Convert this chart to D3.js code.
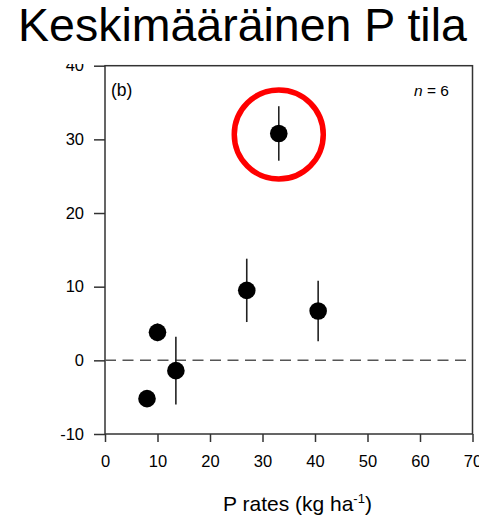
<!DOCTYPE html>
<html>
<head>
<meta charset="utf-8">
<script src="https://cdn.jsdelivr.net/npm/d3@7"></script>
<style>
  html, body { margin: 0; padding: 0; background: #fff; }
  svg { display: block; font-family: "Liberation Sans", Arial, sans-serif; }
</style>
</head>
<body>
<svg id="chart" width="479" height="519"></svg>
<script>
// P application rate (kg/ha) and mean change in soil P, with standard errors
const rates = [8, 10, 13.5, 27, 33.1, 40.6];
const means = [-5.2, 3.8, -1.4, 9.5, 30.8, 6.7];
const errors = [0.9, 1.2, 4.6, 4.3, 3.7, 4.1];
const xTicks = [0, 10, 20, 30, 40, 50, 60, 70];
const yTicks = [-10, 0, 10, 20, 30, 40];
const highlighted = [4]; // index of the circled observation

const svg = d3.select("#chart");
const W = 479, H = 519;
const margin = { top: 65.7, right: 6.5, bottom: 85, left: 105 };

const x = d3.scaleLinear().domain([0, 70]).range([margin.left, W - margin.right]);
const y = d3.scaleLinear().domain([-10, 40]).range([H - margin.bottom, margin.top]);

const axisColor = "#333";
const plain = v => String(v); // hyphen-minus, as in the printed figure

// y axis
const gy = svg.append("g")
  .attr("transform", `translate(${margin.left},0)`)
  .call(d3.axisLeft(y).tickValues(yTicks).tickFormat(plain)
    .tickSize(11).tickSizeOuter(0).tickPadding(10));
gy.select(".domain").remove();
gy.selectAll("line").attr("stroke", axisColor).attr("stroke-width", 1.5);
gy.selectAll("text").attr("font-size", 16.5).attr("fill", "#000")
  .attr("font-family", "'Liberation Sans', Arial, sans-serif");

// x axis
const gx = svg.append("g")
  .attr("transform", `translate(0,${H - margin.bottom})`)
  .call(d3.axisBottom(x).tickValues(xTicks).tickFormat(plain)
    .tickSize(8).tickSizeOuter(0).tickPadding(13));
gx.select(".domain").remove();
gx.selectAll("line").attr("stroke", axisColor).attr("stroke-width", 1.5);
gx.selectAll("text").attr("font-size", 16.5).attr("fill", "#000")
  .attr("font-family", "'Liberation Sans', Arial, sans-serif");

// plot frame
svg.append("rect")
  .attr("x", x(0)).attr("y", y(40))
  .attr("width", x(70) - x(0)).attr("height", y(-10) - y(40))
  .attr("fill", "none").attr("stroke", axisColor).attr("stroke-width", 1.5);

// zero reference line
svg.append("line")
  .attr("x1", x(0)).attr("x2", x(70))
  .attr("y1", y(0)).attr("y2", y(0))
  .attr("stroke", "#555").attr("stroke-width", 1.5)
  .attr("stroke-dasharray", "11,6.5");

const pts = rates.map((r, i) => ({ r, m: means[i], e: errors[i] }));

// error bars
svg.append("g").selectAll("line").data(pts).join("line")
  .attr("x1", d => x(d.r)).attr("x2", d => x(d.r))
  .attr("y1", d => y(d.m + d.e)).attr("y2", d => y(d.m - d.e))
  .attr("stroke", "#222").attr("stroke-width", 1.6);

// means
svg.append("g").selectAll("circle").data(pts).join("circle")
  .attr("cx", d => x(d.r)).attr("cy", d => y(d.m))
  .attr("r", 8.8).attr("fill", "#000");

// highlight ring
svg.append("g").selectAll("circle").data(highlighted.map(i => pts[i])).join("circle")
  .attr("cx", d => x(d.r)).attr("cy", d => y(d.m) + 1)
  .attr("r", 44.5).attr("fill", "none")
  .attr("stroke", "#ff0000").attr("stroke-width", 5.5);

// panel label and sample size
svg.append("text").attr("x", 111).attr("y", 96)
  .attr("font-size", 17.5).text("(b)");
const nLabel = svg.append("text").attr("x", 449).attr("y", 96)
  .attr("font-size", 15.5).attr("text-anchor", "end");
nLabel.append("tspan").attr("font-style", "italic").text("n");
nLabel.append("tspan").text(" = 6");

// x axis title
const xt = svg.append("text").attr("x", 223).attr("y", 510.7).attr("font-size", 21);
xt.append("tspan").text("P rates (kg ha");
xt.append("tspan").attr("font-size", 13).attr("dy", -8).text("-1");
xt.append("tspan").attr("dy", 8).text(")");

// title band
svg.append("rect").attr("x", 0).attr("y", 0).attr("width", W).attr("height", 64).attr("fill", "#fff");
svg.append("text").attr("x", 18).attr("y", 41)
  .attr("font-size", 46.5).attr("fill", "#000")
  .text("Keskimääräinen P tila");
</script>
</body>
</html>
